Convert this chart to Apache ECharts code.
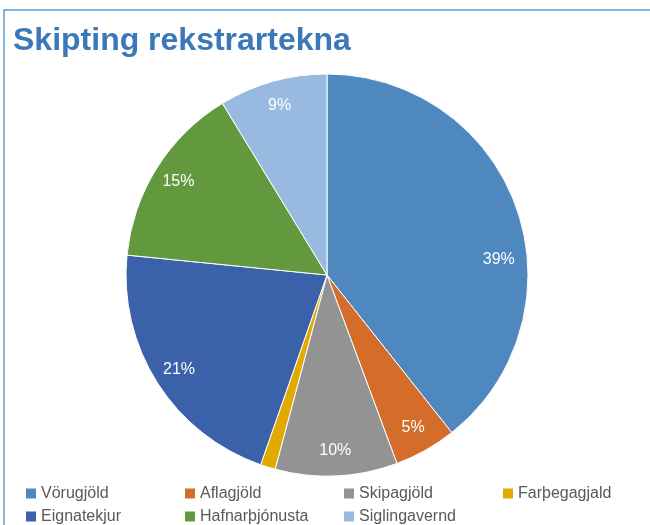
<!DOCTYPE html>
<html>
<head>
<meta charset="utf-8">
<script src="https://cdn.jsdelivr.net/npm/echarts@6/dist/echarts.min.js"></script>
<style>
  html, body { margin: 0; padding: 0; background: #fff; }
  #main { width: 650px; height: 525px; }
</style>
</head>
<body>
<div id="main"></div>
<script>
// gögn lesin af myndinni
var categories = ['Vörugjöld', 'Aflagjöld', 'Skipagjöld', 'Farþegagjald', 'Eignatekjur', 'Hafnarþjónusta', 'Siglingavernd'];
var shares = [39.3, 5.0, 9.8, 1.2, 21.2, 14.7, 8.7];
var colors = ['#4F88BE', '#D46D29', '#939393', '#E2AA00', '#3A61AA', '#62993E', '#98B9E0'];

var myChart = echarts.init(document.getElementById('main'));

var pieData = categories.map(function (name, i) {
    return { name: name, value: shares[i], itemStyle: { color: colors[i] } };
});
// merkingar: ekkert merki á minnstu sneiðina
var labelData = categories.map(function (name, i) {
    var d = {
        name: name,
        value: shares[i],
        label: { show: shares[i] >= 2 }
    };
    // Excel setur stærsta merkið neðar en í miðja sneið
    if (i === 0) d.label.offset = [6, 42];
    return d;
});

var option = {
    animation: false,
    backgroundColor: '#fff',
    title: {
        text: 'Skipting rekstrartekna',
        left: 13,
        top: 25,
        padding: 0,
        textStyle: {
            fontFamily: 'Liberation Sans',
            fontWeight: 'bold',
            fontSize: 32,
            color: '#3A78B9'
        }
    },
    graphic: [{
        type: 'rect',
        shape: { x: 4, y: 10, width: 800, height: 700 },
        style: { fill: 'none', stroke: '#5B9BD5', lineWidth: 1.5 },
        silent: true,
        z: -1
    }],
    legend: {
        left: 26,
        top: 484,
        width: 640,
        padding: 0,
        orient: 'horizontal',
        itemWidth: 10,
        itemHeight: 10,
        itemGap: 4,
        icon: 'rect',
        itemStyle: { borderWidth: 0 },
        data: categories,
        textStyle: {
            fontFamily: 'Liberation Sans',
            fontSize: 16,
            color: '#595959',
            width: 140,
            lineHeight: 19
        }
    },
    series: [
        {
            type: 'pie',
            center: [327, 275],
            radius: [0, 201],
            startAngle: 90,
            clockwise: true,
            silent: true,
            label: { show: false },
            labelLine: { show: false },
            itemStyle: { borderColor: '#fff', borderWidth: 1 },
            data: pieData
        },
        {
            // ósýnilegur hringur sem ber prósentumerkin
            type: 'pie',
            center: [327, 275],
            radius: [144, 201],
            startAngle: 90,
            clockwise: true,
            silent: true,
            itemStyle: { color: 'rgba(0,0,0,0)' },
            label: {
                position: 'inside',
                color: '#fff',
                fontFamily: 'Liberation Sans',
                fontSize: 16,
                formatter: function (p) { return Math.round(p.value) + '%'; }
            },
            labelLine: { show: false },
            data: labelData
        }
    ]
};

myChart.setOption(option);
</script>
</body>
</html>
